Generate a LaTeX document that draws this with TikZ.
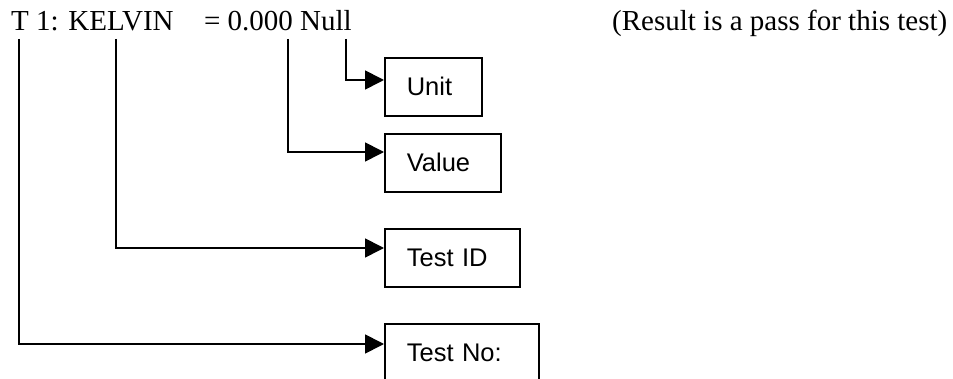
\documentclass[tikz,border=0pt]{standalone}
\usepackage{fontspec}
\setmainfont{Liberation Serif}
\newfontfamily\boxfont{Liberation Sans}
\usetikzlibrary{arrows.meta,calc}
\begin{document}
\begin{tikzpicture}[x=1pt,y=1pt,
  lbl/.style={draw, line width=1.6pt, minimum height=58pt, inner xsep=22pt, inner ysep=0pt,
    align=left, font=\boxfont\fontsize{25.5}{29}\selectfont, anchor=north west},
  conn/.style={line width=1.7pt, -{Triangle[length=19pt,width=19pt]}},
  hdr/.style={anchor=base west, inner sep=0pt, font=\fontsize{29}{34}\selectfont},
]
\useasboundingbox (0,0) rectangle (953,-379);
\node[hdr] (title) at (11,-31) {T 1: KELVIN\hspace{1.05em}= 0.000 Null};
\node[hdr] (note) at (612,-31) {(Result is a pass for this test)};

\node[lbl, text width=53pt] (unit) at (384,-57) {Unit};
\node[lbl, text width=72pt] (value) at (384,-133) {Value};
\node[lbl, text width=91pt] (testid) at (384,-228) {Test ID};
\node[lbl, text width=110pt] (testno) at (384,-323) {Test No:};

\coordinate (s1) at (19,-39);
\coordinate (s2) at (116,-39);
\coordinate (s3) at (288,-39);
\coordinate (s4) at (346,-39);

\coordinate (t1) at ($(unit.north west)+(0,-23)$);
\coordinate (t2) at ($(value.north west)+(0,-19)$);
\coordinate (t3) at ($(testid.north west)+(0,-20)$);
\coordinate (t4) at ($(testno.north west)+(0,-21)$);

\draw[conn] (s4) |- (t1);
\draw[conn] (s3) |- (t2);
\draw[conn] (s2) |- (t3);
\draw[conn] (s1) |- (t4);
\end{tikzpicture}
\end{document}
